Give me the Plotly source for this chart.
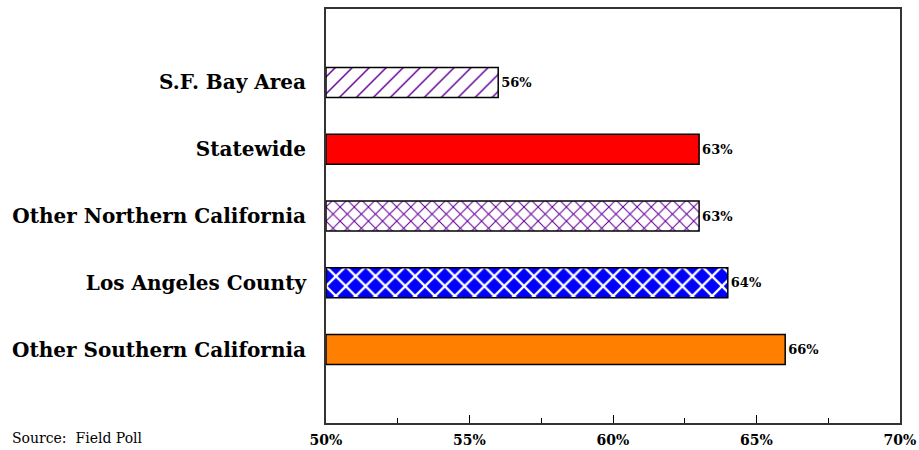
import plotly.graph_objects as go

categories = ["S.F. Bay Area", "Statewide", "Other Northern California",
              "Los Angeles County", "Other Southern California"]
values = [56, 63, 63, 64, 66]
labels = ["56%", "63%", "63%", "64%", "66%"]
x_ticks = [50, 55, 60, 65, 70]
x_tick_text = ["50%", "55%", "60%", "65%", "70%"]

bg_colors = ["white", "#FF0000", "white", "#0000FF", "#FF8000"]
shapes = ["/", "", "x", "x", ""]
fg_colors = ["#660099", "#FF0000", "#660099", "white", "#FF8000"]
pat_sizes = [12, 8, 10, 14, 8]
solidities = [0.12, 0.3, 0.2, 0.3, 0.3]

serif = "DejaVu Serif, Liberation Serif, serif"

fig = go.Figure()
for cat, v, lab, bg, sh, fg, ps, so in zip(categories, values, labels, bg_colors,
                                          shapes, fg_colors, pat_sizes, solidities):
    fig.add_trace(go.Bar(
        y=[cat],
        x=[v - 50],
        base=50,
        orientation="h",
        width=0.45,
        marker=dict(
            color=bg,
            line=dict(color="black", width=1.5),
            pattern=dict(shape=sh, fgcolor=fg, bgcolor=bg, size=ps,
                         solidity=so, fgopacity=1),
        ),
        text=[lab],
        textposition="outside",
        textfont=dict(family=serif, size=13, color="black", weight="bold"),
        cliponaxis=False,
    ))

fig.update_layout(
    width=919, height=450,
    margin=dict(l=326, r=19, t=9, b=27),
    plot_bgcolor="white", paper_bgcolor="white",
    showlegend=False,
    barmode="overlay",
    xaxis=dict(
        range=[50, 70], tickvals=x_ticks, ticktext=x_tick_text,
        automargin=False,
        ticks="inside", ticklen=8, tickwidth=1, tickcolor="black",
        minor=dict(ticks="inside", ticklen=5, tickwidth=1, tickcolor="black", dtick=2.5),
        showgrid=False, zeroline=False,
        showline=True, linecolor="#333333", linewidth=2, mirror=True,
        ticklabelstandoff=3,
        tickfont=dict(family=serif, size=14, color="black", weight="bold"),
    ),
    yaxis=dict(
        categoryorder="array", categoryarray=categories[::-1],
        range=[-1.1, 5.1],
        automargin=False,
        showgrid=False, zeroline=False,
        showline=True, linecolor="#333333", linewidth=2, mirror=True,
        ticks="", ticklabelstandoff=14,
        tickfont=dict(family=serif, size=20, color="black", weight="bold"),
    ),
    annotations=[dict(
        text="Source:  Field Poll", xref="paper", yref="paper",
        x=(10 - 326) / 574, y=-15 / 414, xanchor="left", yanchor="middle",
        showarrow=False, font=dict(family=serif, size=14, color="black"),
    )],
)

fig.write_html("out.html")
